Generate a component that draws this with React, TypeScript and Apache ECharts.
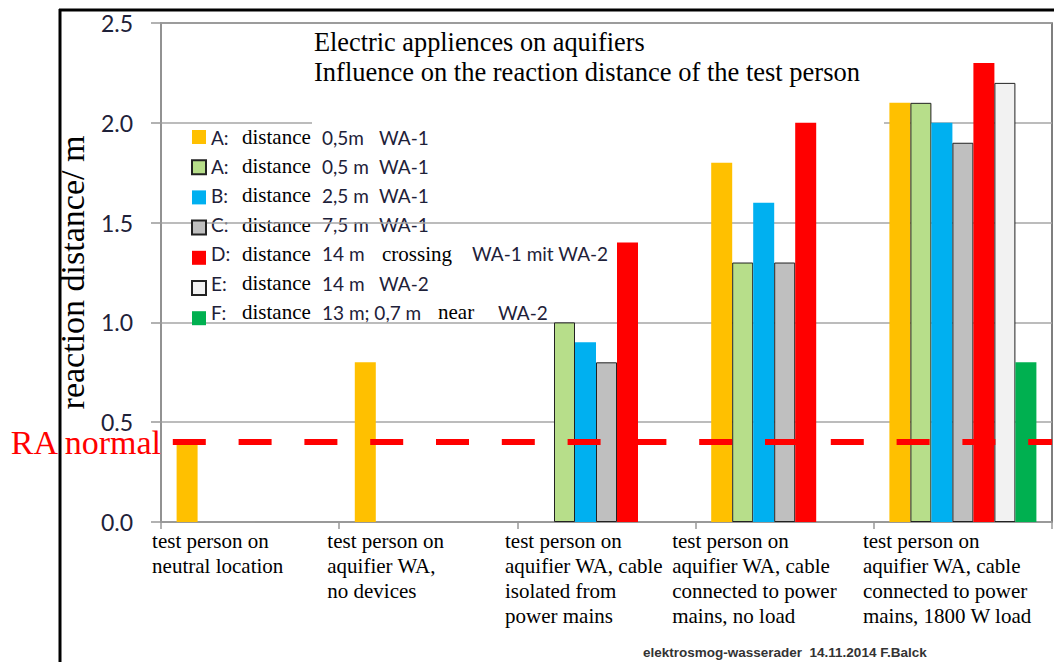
import React, { useEffect, useRef } from "react";
import * as echarts from "echarts";

// ---------- data ----------
const categories = [
  "test person on\nneutral location",
  "test person on\naquifier WA,\nno devices",
  "test person on\naquifier WA, cable\nisolated from\npower mains",
  "test person on\naquifier WA, cable\nconnected to power\nmains, no load",
  "test person on\naquifier WA, cable\nconnected to power\nmains, 1800 W load",
];

const seriesNames = [
  "A: distance 0,5m WA-1",
  "A: distance 0,5 m WA-1",
  "B: distance 2,5 m WA-1",
  "C: distance 7,5 m WA-1",
  "D: distance 14 m crossing WA-1 mit WA-2",
  "E: distance 14 m WA-2",
  "F: distance 13 m; 0,7 m near WA-2",
];
const legendKeys = ["A:", "A:", "B:", "C:", "D:", "E:", "F:"];
const legendWord = "distance";
const legendDist = ["0,5m", "0,5 m", "2,5 m", "7,5 m", "14 m", "14 m", "13 m; 0,7 m"];
const legendMid = ["", "", "", "", "crossing", "", "near"];
const legendWA = ["WA-1", "WA-1", "WA-1", "WA-1", "WA-1 mit WA-2", "WA-2", "WA-2"];

const valuesA1 = [0.4, 0.8, null, 1.8, 2.1];
const valuesA2 = [null, null, 1.0, 1.3, 2.1];
const valuesB = [null, null, 0.9, 1.6, 2.0];
const valuesC = [null, null, 0.8, 1.3, 1.9];
const valuesD = [null, null, 1.4, 2.0, 2.3];
const valuesE = [null, null, null, null, 2.2];
const valuesF = [null, null, null, null, 0.8];
const seriesValues = [valuesA1, valuesA2, valuesB, valuesC, valuesD, valuesE, valuesF];

const raNormal = 0.4;
const raLabel = "RA normal";
const yTicks = { min: 0, max: 2.5, interval: 0.5 };
const yName = "reaction distance/ m";
const titleLines = [
  "Electric appliences on aquifiers",
  "Influence on the reaction distance of the test person",
];
const footer = "elektrosmog-wasserader  14.11.2014 F.Balck";

// ---------- styles / layout ----------
const seriesColors = ["#FFC000", "#B7DE8A", "#00B0F0", "#BFBFBF", "#FF0000", "#F2F2F2", "#00B050"];
const seriesBordered = [false, true, false, true, false, true, false];
const labelBlockWidths = [196, 202, 203, 225, 200];
const SANS_COLOR = "#1e2139";
const LEGEND_X = 211;
const LEGEND_Y0 = 137;
const LEGEND_STEP = 29.2;

export default function App() {
  const ref = useRef<HTMLDivElement>(null);

  useEffect(() => {
    if (!ref.current) return;
    const chart = echarts.init(ref.current, null, { renderer: "svg" });

    const xRich: Record<string, any> = {};
    labelBlockWidths.forEach((w, i) => {
      xRich["c" + i] = {
        width: w,
        align: "left",
        fontFamily: "Liberation Serif",
        fontSize: 21,
        lineHeight: 25,
        color: "#000",
      };
    });

    const series: any[] = seriesNames.map((name, i) => ({
      name,
      type: "bar",
      data: seriesValues[i],
      barWidth: 21,
      barGap: "0%",
      clip: false,
      itemStyle: {
        color: seriesColors[i],
        borderColor: seriesBordered[i] ? "#222" : seriesColors[i],
        borderWidth: seriesBordered[i] ? 1 : 0,
      },
    }));

    series[0].markLine = {
      silent: true,
      symbol: "none",
      z: 6,
      data: [{ yAxis: raNormal }],
      lineStyle: { color: "#ff0000", width: 6, type: [33, 32.8], dashOffset: 53.8 },
      label: {
        show: true,
        position: "start",
        formatter: raLabel,
        color: "#ff0000",
        fontSize: 34,
        fontFamily: "Liberation Serif",
        distance: 0,
      },
    };

    const sansText = (x: number, text: string) => ({
      type: "text",
      x,
      y: 0,
      style: { text, fontFamily: "Lato", fontSize: 19, fill: SANS_COLOR, verticalAlign: "middle" },
    });
    const serifText = (x: number, text: string) => ({
      type: "text",
      x,
      y: 0,
      style: {
        text,
        fontFamily: "Liberation Serif",
        fontSize: 21,
        fill: "#000",
        verticalAlign: "middle",
        backgroundColor: "#fff",
        padding: [1, 2, 1, 2],
      },
    });

    const legendTexts = seriesNames.map((_, i) => {
      const isD = legendKeys[i] === "D:";
      const isF = legendKeys[i] === "F:";
      const children: any[] = [
        sansText(LEGEND_X, legendKeys[i]),
        serifText(LEGEND_X + 29, legendWord),
        sansText(LEGEND_X + 111, legendDist[i]),
      ];
      let waX = LEGEND_X + 168;
      if (isD) {
        children.push(serifText(LEGEND_X + 169, legendMid[i]));
        waX = LEGEND_X + 261;
      } else if (isF) {
        children.push(serifText(LEGEND_X + 225, legendMid[i]));
        waX = LEGEND_X + 287;
      }
      children.push(sansText(waX, legendWA[i]));
      return {
        type: "group",
        z: 4,
        silent: true,
        x: 0,
        y: LEGEND_Y0 + LEGEND_STEP * i,
        children,
      };
    });

    const option: any = {
      animation: false,
      backgroundColor: "#fff",
      textStyle: { fontFamily: "Liberation Serif" },
      grid: {
        left: 161,
        right: 2,
        top: 23,
        bottom: 140,
        outerBoundsMode: "none",
        containLabel: false,
        show: true,
        borderColor: "#555",
        borderWidth: 1.5,
        backgroundColor: "transparent",
      },
      legend: {
        orient: "vertical",
        left: 186,
        top: LEGEND_Y0 - 7 - 5,
        itemWidth: 14,
        itemHeight: 14,
        itemGap: LEGEND_STEP - 14,
        icon: "rect",
        selectedMode: false,
        data: seriesNames,
        formatter: () => "",
        textStyle: { fontSize: 8 },
      },
      xAxis: {
        type: "category",
        data: categories,
        boundaryGap: true,
        axisLine: { lineStyle: { color: "#999", width: 1.5 } },
        axisTick: { show: true, length: 7, lineStyle: { color: "#999", width: 1.5 } },
        axisLabel: {
          interval: 0,
          margin: 6,
          align: "center",
          verticalAlign: "top",
          hideOverlap: false,
          fontFamily: "Liberation Serif",
          fontSize: 21,
          formatter: (value: string, index: number) =>
            value
              .split("\n")
              .map((l) => `{c${index}|${l}}`)
              .join("\n"),
          rich: xRich,
        },
        splitLine: { show: false },
      },
      yAxis: {
        type: "value",
        min: yTicks.min,
        max: yTicks.max,
        interval: yTicks.interval,
        name: yName,
        nameLocation: "middle",
        nameGap: 47,
        nameTextStyle: { fontFamily: "Liberation Serif", fontSize: 34, color: "#000" },
        axisLine: { show: true, lineStyle: { color: "#999", width: 1.5 } },
        axisTick: { show: true, length: 10, lineStyle: { color: "#999", width: 1.5 } },
        axisLabel: {
          margin: 28,
          fontFamily: "Lato",
          fontSize: 23,
          color: SANS_COLOR,
          formatter: (v: number) => v.toFixed(1),
        },
        splitLine: { show: true, lineStyle: { color: "#a6a6a6", width: 1.5 } },
      },
      series,
      graphic: [
        {
          type: "rect",
          z: 1,
          silent: true,
          shape: { x: 312, y: 25, width: 572, height: 100 },
          style: { fill: "#fff" },
        },
        {
          type: "text",
          z: 3,
          x: 314,
          y: 42,
          silent: true,
          style: {
            text: titleLines[0],
            fontFamily: "Liberation Serif",
            fontSize: 26.3,
            fill: "#000",
            verticalAlign: "middle",
          },
        },
        {
          type: "text",
          z: 3,
          x: 314,
          y: 72,
          silent: true,
          style: {
            text: titleLines[1],
            fontFamily: "Liberation Serif",
            fontSize: 26.5,
            fill: "#000",
            verticalAlign: "middle",
          },
        },
        ...legendTexts,
        {
          type: "text",
          z: 3,
          x: 643,
          y: 652,
          silent: true,
          style: {
            text: footer,
            fontFamily: "Liberation Sans",
            fontWeight: "bold",
            fontSize: 13.5,
            fill: "#333",
            verticalAlign: "middle",
          },
        },
        {
          type: "line",
          z: 10,
          silent: true,
          shape: { x1: 60, y1: 9, x2: 60, y2: 662 },
          style: { stroke: "#000", lineWidth: 3 },
        },
        {
          type: "line",
          z: 10,
          silent: true,
          shape: { x1: 59, y1: 10, x2: 1054, y2: 10 },
          style: { stroke: "#000", lineWidth: 3 },
        },
      ],
    };

    chart.setOption(option);
    return () => chart.dispose();
  }, []);

  return (
    <div
      ref={ref}
      style={{ position: "fixed", left: 0, top: 0, width: 1054, height: 662, background: "#fff" }}
    />
  );
}
